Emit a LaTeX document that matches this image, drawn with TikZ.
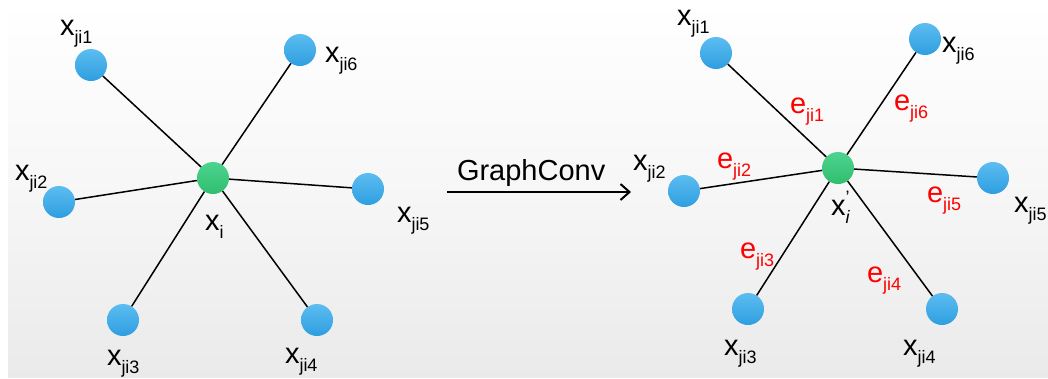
\documentclass[tikz,border=0pt]{standalone}
\usepackage{fontspec}
\setmainfont{Liberation Sans}
\usetikzlibrary{arrows.meta}
\definecolor{nodeblueT}{HTML}{5CBDF0}
\definecolor{nodeblueB}{HTML}{2E9EE0}
\definecolor{nodegreenT}{HTML}{4CD490}
\definecolor{nodegreenB}{HTML}{30BE6E}
\definecolor{bgbottom}{HTML}{EAEAEA}
\newcommand{\bigsz}{\fontsize{29}{32}\selectfont}
\newcommand{\smallsz}{\fontsize{18}{20}\selectfont}
% symbol with a lowered subscript
\newcommand{\subbed}[2]{{\bigsz #1}\raisebox{-8pt}{\smallsz #2}}
\tikzset{
  neighbour/.style={circle, minimum size=32pt, inner sep=0pt,
    top color=nodeblueT, bottom color=nodeblueB},
  centre/.style={circle, minimum size=32pt, inner sep=0pt,
    top color=nodegreenT, bottom color=nodegreenB},
  link/.style={draw=black, line width=1.5pt},
  lab/.style={anchor=base west, inner sep=0pt, outer sep=0pt},
  elab/.style={lab, text=red},
}
\begin{document}
\begin{tikzpicture}[x=1pt, y=-1pt]
\useasboundingbox (0,0) rectangle (1048,378);
\shade[top color=white, bottom color=bgbottom, middle color=white!60!bgbottom]
  (8,0) rectangle (1048,377);

% ---- input graph ----
\node[centre] (c) at (213,178) {};
\node[neighbour] (a1) at (91,65) {};
\node[neighbour] (a2) at (59,202) {};
\node[neighbour] (a3) at (123,320) {};
\node[neighbour] (a4) at (317,320) {};
\node[neighbour] (a5) at (368,189) {};
\node[neighbour] (a6) at (300,50) {};
\foreach \k in {1,...,6} \draw[link] (c) -- (a\k);

\node[lab] (la1) at (60,35) {\subbed{x}{ji1}};
\node[lab] (la6) at (325,62) {\subbed{x}{ji6}};
\node[lab] (la2) at (15,180) {\subbed{x}{ji2}};
\node[lab] (la5) at (397,222) {\subbed{x}{ji5}};
\node[lab] (la3) at (107,365) {\subbed{x}{ji3}};
\node[lab] (la4) at (285,363) {\subbed{x}{ji4}};
\node[lab] (lc) at (205,230) {\subbed{x}{i}};

% ---- operation ----
\coordinate (arrS) at (447,192);
\coordinate (arrE) at (631,192);
\draw[line width=2pt, -{Straight Barb[length=9pt, width=16pt, line width=2pt]}] (arrS) -- (arrE);
\node[lab] (op) at (457,180) {\bigsz GraphConv};

% ---- output graph ----
\node[centre] (d) at (838,168) {};
\node[neighbour] (b1) at (716,53) {};
\node[neighbour] (b2) at (684,191) {};
\node[neighbour] (b3) at (748,309) {};
\node[neighbour] (b4) at (942,309) {};
\node[neighbour] (b5) at (993,178) {};
\node[neighbour] (b6) at (925,39) {};
\foreach \k in {1,...,6} \draw[link] (d) -- (b\k);

\node[lab] (lb1) at (677,25) {\subbed{x}{ji1}};
\node[lab] (lb6) at (942,52) {\subbed{x}{ji6}};
\node[lab] (lb2) at (633,170) {\subbed{x}{ji2}};
\node[lab] (lb5) at (1014,212) {\subbed{x}{ji5}};
\node[lab] (lb3) at (724,355) {\subbed{x}{ji3}};
\node[lab] (lb4) at (903,355) {\subbed{x}{ji4}};
\node[lab] (ld) at (831,215)
  {{\bigsz x}\makebox[0pt][l]{\raisebox{12pt}{\smallsz ’}}\raisebox{-8pt}{\smallsz\itshape i}};

\node[elab] (e1) at (790,113) {\subbed{e}{ji1}};
\node[elab] (e6) at (894,110) {\subbed{e}{ji6}};
\node[elab] (e2) at (717,168) {\subbed{e}{ji2}};
\node[elab] (e5) at (927,202) {\subbed{e}{ji5}};
\node[elab] (e3) at (740,258) {\subbed{e}{ji3}};
\node[elab] (e4) at (867,282) {\subbed{e}{ji4}};
\end{tikzpicture}
\end{document}
